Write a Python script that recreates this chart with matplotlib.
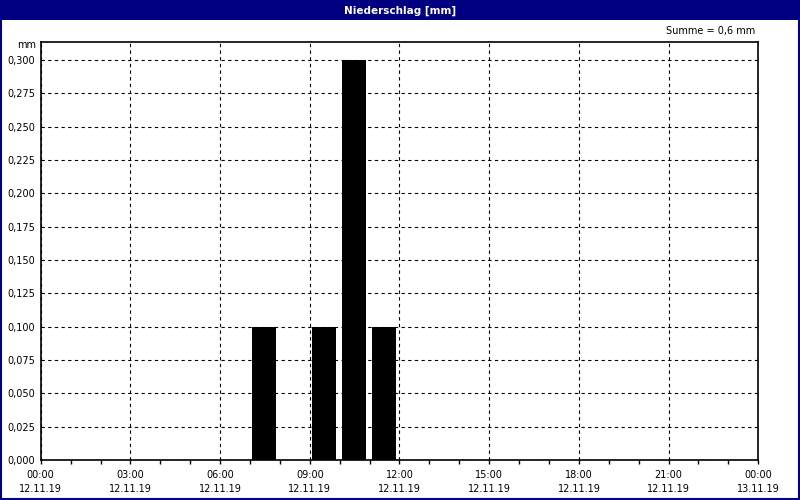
import matplotlib
matplotlib.use('Agg')
import matplotlib.pyplot as plt
from matplotlib.patches import Rectangle
from matplotlib.ticker import FuncFormatter, MultipleLocator
import numpy as np

# ── data ──────────────────────────────────────────────────────────────────────
rain_hours = [7, 9, 10, 11]          # start hour of each interval, 12.11.19
rain_mm = [0.1, 0.1, 0.3, 0.1]
tick_hours = [0, 3, 6, 9, 12, 15, 18, 21, 24]
tick_times = ['00:00', '03:00', '06:00', '09:00', '12:00', '15:00', '18:00', '21:00', '00:00']
tick_dates = ['12.11.19'] * 8 + ['13.11.19']

navy = '#000080'
W, H = 800, 500

fig = plt.figure(figsize=(8, 5), dpi=100)
fig.patch.set_facecolor('white')

# title bar + outer frame
fig.patches.append(Rectangle((0, 1 - 20 / H), 1, 20 / H, transform=fig.transFigure,
                             facecolor=navy, edgecolor='none', zorder=0))
fig.patches.append(Rectangle((1 / W, 1 / H), 1 - 2 / W, 1 - 2 / H, transform=fig.transFigure,
                             facecolor='none', edgecolor=navy, linewidth=1.5, zorder=5))
fig.text(0.5, 1 - 10.5 / H, 'Niederschlag [mm]', color='white', fontsize=7.5,
         fontweight='bold', ha='center', va='center')

# ── plot area ────────────────────────────────────────────────────────────────
left, right, bottom, top = 40.7, 758.3, 40, 458
ax = fig.add_axes([left / W, bottom / H, (right - left) / W, (top - bottom) / H])

ax.bar(np.array(rain_hours) + 0.47, rain_mm, width=0.8, color='black', zorder=3)

ax.set_xlim(0, 24)
ax.set_ylim(0, 0.3135)
ax.yaxis.set_major_locator(MultipleLocator(0.025))
ax.yaxis.set_major_formatter(FuncFormatter(lambda v, p: f'{v:.3f}'.replace('.', ',')))

ax.set_xticks(tick_hours)
ax.set_xticklabels([f'{t}\n{d}' for t, d in zip(tick_times, tick_dates)], linespacing=1.55)
ax.set_xticks(range(25), minor=True)

ax.tick_params(axis='x', which='both', direction='out', length=3, width=1,
               labelsize=7, pad=4)
ax.tick_params(axis='y', direction='out', length=0, labelsize=7, pad=4)

ax.grid(True, which='major', color='black', linestyle=(0, (3, 3)), linewidth=0.8, zorder=1)
for s in ax.spines.values():
    s.set_linewidth(1.2)
    s.set_color('black')

fig.text(36 / W, 1 - 45 / H, 'mm', fontsize=7, ha='right', va='center')
fig.text(755 / W, 1 - 31 / H, f'Summe = {sum(rain_mm):.1f} mm'.replace('.', ','),
         fontsize=7, ha='right', va='center')

fig.savefig('out.png', dpi=100)
